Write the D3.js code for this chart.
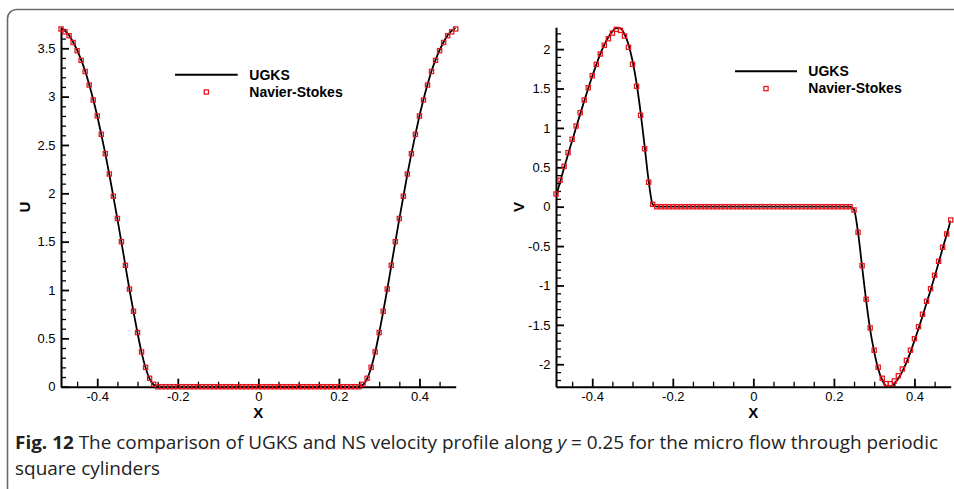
<!DOCTYPE html>
<html>
<head>
<meta charset="utf-8">
<script src="https://cdn.jsdelivr.net/npm/d3@7"></script>
<style>
  html, body { margin: 0; padding: 0; background: #fff; }
  svg { display: block; }
  .tick text { font-family: "Liberation Sans", Arial, sans-serif; font-size: 13px; fill: #000; }
</style>
</head>
<body>
<svg id="fig" width="954" height="489"></svg>
<script>
// Sample locations along the line y = 0.25 (cell centres, step 0.01)
const xs = d3.range(-49, 50).map(i => i / 100);

// U component: Navier-Stokes samples, left flank x = -0.49 .. -0.26
const uNSLeft = [3.70, 3.67, 3.63, 3.56, 3.475, 3.375, 3.26, 3.12, 2.965, 2.80, 2.61, 2.41,
                 2.20, 1.97, 1.74, 1.50, 1.255, 1.01, 0.78, 0.56, 0.36, 0.20, 0.087, 0.025];
// U component: UGKS solution, left flank x = -0.49 .. -0.26
const uUGKSLeft = [3.71, 3.68, 3.635, 3.565, 3.48, 3.38, 3.265, 3.125, 2.97, 2.80, 2.61, 2.41,
                   2.195, 1.965, 1.735, 1.495, 1.25, 1.005, 0.775, 0.555, 0.355, 0.195, 0.08, 0.02];
// Wall region -0.25 .. 0.25 has zero streamwise velocity
const uZero = new Array(51).fill(0);
// Profiles are mirror symmetric about x = 0
const uNS = [...uNSLeft, ...uZero, ...uNSLeft.slice().reverse()];
const uUGKS = [...uUGKSLeft, ...uZero, ...uUGKSLeft.slice().reverse()];

// V component: Navier-Stokes samples
const vNSLeft = [0.161, 0.335, 0.512, 0.686, 0.855, 1.024, 1.193, 1.354, 1.510, 1.663, 1.807,
                 1.938, 2.048, 2.132, 2.204, 2.251, 2.238, 2.166, 2.023, 1.807, 1.528, 1.160,
                 0.736, 0.310, 0.030];                       // x = -0.49 .. -0.25
const vNSRight = [-0.042, -0.325, -0.749, -1.175, -1.539, -1.822, -2.038, -2.178, -2.246,
                  -2.246, -2.212, -2.145, -2.060, -1.950, -1.822, -1.675, -1.523, -1.365,
                  -1.201, -1.041, -0.871, -0.693, -0.515, -0.346, -0.169];   // x = 0.25 .. 0.49
// V component: UGKS solution
const vUGKSLeft = [0.13, 0.31, 0.49, 0.665, 0.835, 1.005, 1.175, 1.34, 1.50, 1.655, 1.80,
                   1.94, 2.055, 2.15, 2.225, 2.268, 2.262, 2.19, 2.06, 1.85, 1.57, 1.20,
                   0.77, 0.33, 0.03];
const vUGKSRight = [-0.04, -0.33, -0.76, -1.19, -1.56, -1.84, -2.06, -2.20, -2.275, -2.285,
                    -2.245, -2.18, -2.09, -1.98, -1.85, -1.70, -1.55, -1.39, -1.225, -1.06,
                    -0.89, -0.71, -0.53, -0.355, -0.175];
const vZero = new Array(49).fill(0);                          // x = -0.24 .. 0.24
const vNS = [...vNSLeft, ...vZero, ...vNSRight];
const vUGKS = [...vUGKSLeft, ...vZero, ...vUGKSRight];

// Axis ticks and labels
const xTicks = [-0.4, -0.2, 0, 0.2, 0.4];
const xTickLabels = ["-0.4", "-0.2", "0", "0.2", "0.4"];
const uTicks = [0, 0.5, 1, 1.5, 2, 2.5, 3, 3.5];
const uTickLabels = ["0", "0.5", "1", "1.5", "2", "2.5", "3", "3.5"];
const vTicks = [-2, -1.5, -1, -0.5, 0, 0.5, 1, 1.5, 2];
const vTickLabels = ["-2", "-1.5", "-1", "-0.5", "0", "0.5", "1", "1.5", "2"];
const seriesNames = ["UGKS", "Navier-Stokes"];

const RED = "#e8141c";
const svg = d3.select("#fig");

// Panel frame, open at the right and bottom
svg.append("rect")
  .attr("x", 7.5).attr("y", 9.5).attr("width", 1200).attr("height", 700)
  .attr("rx", 9).attr("fill", "none").attr("stroke", "#6b6b6b").attr("stroke-width", 1.6);

function panel(opts) {
  const x = d3.scaleLinear().domain([-0.49, 0.49]).range([opts.left, opts.right]);
  const y = d3.scaleLinear().domain(opts.yDomain).range([opts.bottom, opts.top]);
  const g = svg.append("g");

  const clipId = "clip-" + opts.name;
  svg.append("clipPath").attr("id", clipId).append("rect")
    .attr("x", opts.left).attr("y", opts.top - 1)
    .attr("width", opts.right - opts.left).attr("height", opts.bottom - opts.top + 1);

  // minor ticks
  const xMinor = d3.range(-0.45, 0.4501, 0.05).filter(v => !xTicks.some(t => Math.abs(t - v) < 1e-6));
  const yMinor = d3.range(Math.ceil(opts.yDomain[0] * 10), Math.floor(opts.yDomain[1] * 10) + 1)
    .map(i => i / 10).filter(v => !opts.yTicks.some(t => Math.abs(t - v) < 1e-6));

  g.append("g").attr("transform", `translate(0,${opts.bottom})`)
    .call(d3.axisBottom(x).tickValues(xMinor).tickSize(-5).tickFormat("").tickSizeOuter(0))
    .call(s => s.select(".domain").remove())
    .call(s => s.selectAll("line").attr("stroke-width", 1.3));
  g.append("g").attr("transform", `translate(${opts.left},0)`)
    .call(d3.axisLeft(y).tickValues(yMinor).tickSize(-5).tickFormat("").tickSizeOuter(0))
    .call(s => s.select(".domain").remove())
    .call(s => s.selectAll("line").attr("stroke-width", 1.3));

  // major ticks with labels
  g.append("g").attr("transform", `translate(0,${opts.bottom})`)
    .call(d3.axisBottom(x).tickValues(xTicks).tickSize(-8).tickPadding(5.5)
      .tickFormat((d, i) => xTickLabels[i]).tickSizeOuter(0))
    .call(s => s.select(".domain").attr("stroke-width", 2))
    .call(s => s.selectAll(".tick line").attr("stroke-width", 1.8))
    .call(s => s.attr("font-family", null).attr("font-size", null));
  g.append("g").attr("transform", `translate(${opts.left},0)`)
    .call(d3.axisLeft(y).tickValues(opts.yTicks).tickSize(-8).tickPadding(5.5)
      .tickFormat((d, i) => opts.yTickLabels[i]).tickSizeOuter(0))
    .call(s => s.select(".domain").attr("stroke-width", 2))
    .call(s => s.selectAll(".tick line").attr("stroke-width", 1.8))
    .call(s => s.attr("font-family", null).attr("font-size", null));

  // axis titles
  svg.append("text").attr("x", (opts.left + opts.right) / 2).attr("y", 418)
    .attr("text-anchor", "middle").attr("font-family", "Liberation Sans, Arial, sans-serif")
    .attr("font-weight", "bold").attr("font-size", 15).text("X");
  svg.append("text")
    .attr("transform", `translate(${opts.yTitleX},${(opts.top + opts.bottom) / 2}) rotate(-90)`)
    .attr("text-anchor", "middle").attr("dy", "0.36em")
    .attr("font-family", "Liberation Sans, Arial, sans-serif")
    .attr("font-weight", "bold").attr("font-size", 15).text(opts.yTitle);

  const plot = svg.append("g").attr("clip-path", `url(#${clipId})`);
  const line = d3.line().x((d, i) => x(xs[i])).y(d => y(d)).curve(d3.curveMonotoneX);
  plot.append("path").datum(opts.ugks).attr("d", line)
    .attr("fill", "none").attr("stroke", "#000").attr("stroke-width", 1.8);

  const ms = 4.2;
  svg.append("g").selectAll("rect").data(opts.ns).join("rect")
    .attr("x", (d, i) => x(xs[i]) - ms / 2).attr("y", d => y(d) - ms / 2)
    .attr("width", ms).attr("height", ms)
    .attr("fill", "none").attr("stroke", RED).attr("stroke-width", 1.25);

  // legend
  const L = opts.legend;
  svg.append("line").attr("x1", L.x1).attr("x2", L.x2).attr("y1", L.y).attr("y2", L.y)
    .attr("stroke", "#000").attr("stroke-width", 2);
  svg.append("rect").attr("x", (L.x1 + L.x2) / 2 - ms / 2).attr("y", L.y + 17.3 - ms / 2)
    .attr("width", ms).attr("height", ms)
    .attr("fill", "none").attr("stroke", RED).attr("stroke-width", 1.25);
  seriesNames.forEach((name, i) => {
    svg.append("text").attr("x", L.tx).attr("y", L.y + 4.8 + i * 17.3)
      .attr("font-family", "Liberation Sans, Arial, sans-serif")
      .attr("font-weight", "bold").attr("font-size", 14).text(name);
  });
}

panel({
  name: "u", left: 61, right: 455.7, top: 27.3, bottom: 386.7,
  yDomain: [0, 3.717], yTicks: uTicks, yTickLabels: uTickLabels,
  yTitle: "U", yTitleX: 24.5, ugks: uUGKS, ns: uNS,
  legend: { x1: 175, x2: 237.7, y: 74.7, tx: 249.3 }
});
panel({
  name: "v", left: 556, right: 950.7, top: 27.3, bottom: 386.7,
  yDomain: [-2.285, 2.277], yTicks: vTicks, yTickLabels: vTickLabels,
  yTitle: "V", yTitleX: 519, ugks: vUGKS, ns: vNS,
  legend: { x1: 735, x2: 797, y: 71.3, tx: 808.3 }
});

// Figure caption
const cap1 = svg.append("text").attr("x", 15).attr("y", 449)
  .attr("font-family", "Open Sans, Noto Sans, sans-serif").attr("font-size", 17.5).attr("fill", "#222")
  .attr("textLength", 923).attr("lengthAdjust", "spacingAndGlyphs");
cap1.append("tspan").attr("font-weight", "bold").text("Fig. 12");
cap1.append("tspan").text("  The comparison of UGKS and NS velocity profile along ");
cap1.append("tspan").attr("font-style", "italic").text("y");
cap1.append("tspan").text(" = 0.25 for the micro flow through periodic");
svg.append("text").attr("x", 15).attr("y", 475)
  .attr("font-family", "Open Sans, Noto Sans, sans-serif").attr("font-size", 17.5).attr("fill", "#222")
  .attr("textLength", 145).attr("lengthAdjust", "spacingAndGlyphs")
  .text("square cylinders");
</script>
</body>
</html>
